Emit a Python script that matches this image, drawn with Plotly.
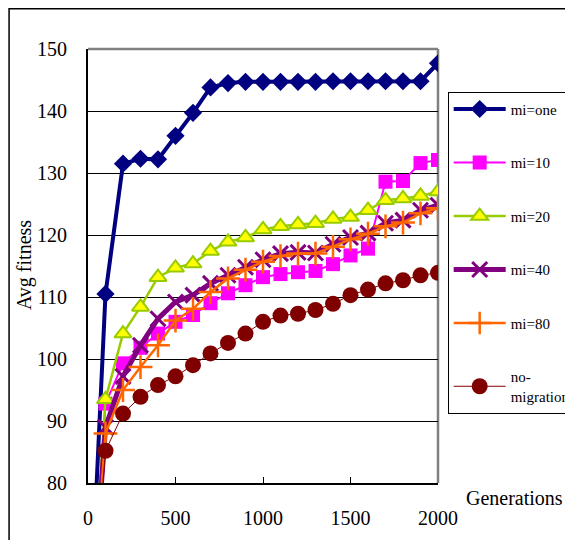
import plotly.graph_objects as go

generations = [0, 100, 200, 300, 400, 500, 600, 700, 800, 900, 1000,
               1100, 1200, 1300, 1400, 1500, 1600, 1700, 1800, 1900, 2000]

mi_one = [50, 110.5, 131.5, 132.3, 132.2, 136.0, 139.7, 143.8, 144.5, 144.7, 144.7,
          144.7, 144.7, 144.7, 144.8, 144.8, 144.8, 144.8, 144.8, 144.8, 147.7]
mi_10 = [50, 92.8, 99.3, 101.8, 104.1, 106.0, 107.1, 109.0, 110.6, 111.9, 113.2,
         113.7, 114.0, 114.2, 115.3, 116.7, 117.8, 128.6, 128.7, 131.6, 132.1]
mi_20 = [50, 93.5, 104.1, 108.4, 113.2, 114.7, 115.4, 117.4, 118.9, 119.6, 120.9,
         121.4, 121.7, 121.9, 122.6, 122.9, 124.0, 125.6, 125.9, 126.3, 127.0]
mi_40 = [50, 89.0, 97.2, 102.2, 106.5, 109.2, 110.3, 112.2, 113.5, 114.8, 116.0,
         117.0, 117.2, 117.1, 118.5, 119.6, 120.3, 121.9, 122.4, 124.0, 124.8]
mi_80 = [50, 88.0, 95.0, 98.7, 102.2, 106.2, 108.1, 110.8, 113.0, 114.4, 115.7,
         116.6, 117.0, 117.0, 118.1, 119.3, 120.2, 121.4, 122.0, 123.5, 124.3]
no_migration = [50, 85.2, 91.2, 93.9, 95.8, 97.2, 99.0, 100.9, 102.6, 104.1, 106.0,
                107.0, 107.3, 107.9, 108.9, 110.3, 111.2, 112.2, 112.7, 113.5, 113.9]

y_ticks = [80, 90, 100, 110, 120, 130, 140, 150]
x_ticks = [0, 500, 1000, 1500, 2000]

series = [
    ("mi=one", mi_one, dict(color="#000080", width=4),
     dict(symbol="diamond", size=14, color="#000080")),
    ("mi=10", mi_10, dict(color="#FF00FF", width=2),
     dict(symbol="square", size=14, color="#FF00FF")),
    ("mi=20", mi_20, dict(color="#99CC00", width=2.5),
     dict(symbol="triangle-up", size=15, color="#FFFF00",
          line=dict(color="#99CC00", width=2))),
    ("mi=40", mi_40, dict(color="#800080", width=5),
     dict(symbol="x-thin-open", size=15, color="#800080",
          line=dict(color="#800080", width=3))),
    ("mi=80", mi_80, dict(color="#FF6600", width=2.5),
     dict(symbol="cross-thin-open", size=17, color="#FF6600",
          line=dict(color="#FF6600", width=2.5))),
    ("no-<br>migration", no_migration, dict(color="#800000", width=1),
     dict(symbol="circle", size=16, color="#800000")),
]

fig = go.Figure()
for i, (name, vals, ln, mk) in enumerate(series):
    fig.add_trace(go.Scatter(x=generations, y=vals, name=name, mode="lines+markers",
                             line=ln, marker=mk, legendgroup=f"g{i}"))

serif = "Liberation Serif"
OFF = 8  # page body margin
W, H = 573 - OFF, 540 - OFF
# plot area in page pixels
PL, PR, PT, PB = 88, 438.3, 49.3, 482.6
L, T = PL - OFF, PT - OFF
R, B = W - (PR - OFF), H - (PB - OFF)
pw, ph = PR - PL, PB - PT

def px(X):
    return (X - PL) / pw

def py(Y):
    return (PB - Y) / ph

fig.update_layout(
    template="none",
    width=W, height=H,
    margin=dict(l=L, r=R, t=T, b=B, autoexpand=False),
    paper_bgcolor="white", plot_bgcolor="white",
    font=dict(family=serif, color="black", size=15),
    showlegend=True,
    legend=dict(x=px(448), y=py(92), xanchor="left", yanchor="top",
                bordercolor="black", borderwidth=1, bgcolor="white",
                font=dict(family=serif, size=15, color="black", weight="normal"),
                tracegroupgap=31, itemwidth=52),
    xaxis=dict(range=[0, 2000], tickvals=x_ticks, ticks="inside", ticklen=6,
               tickcolor="black", showgrid=False, zeroline=False, automargin=False,
               showline=True, linecolor="black", linewidth=2,
               tickfont=dict(family=serif, size=20), ticklabelstandoff=16),
    yaxis=dict(range=[80, 150], tickvals=y_ticks, ticks="", showgrid=True,
               gridcolor="black", gridwidth=1, zeroline=False, automargin=False,
               showline=True, linecolor="black", linewidth=2,
               tickfont=dict(family=serif, size=20), ticklabelstandoff=15),
    shapes=[
        dict(type="line", xref="paper", yref="paper", x0=0, x1=1, y0=1, y1=1,
             line=dict(color="#808080", width=2.5), layer="above"),
        dict(type="line", xref="paper", yref="paper", x0=1, x1=1, y0=0, y1=1,
             line=dict(color="#808080", width=2.5), layer="below"),
        dict(type="rect", xref="paper", yref="paper", x0=px(9), x1=px(600),
             y0=py(600), y1=py(9), line=dict(color="black", width=1.5),
             layer="below"),
    ],
    annotations=[
        dict(text="Generations", xref="paper", yref="paper", x=px(515), y=py(498),
             xanchor="center", yanchor="middle", showarrow=False,
             font=dict(family=serif, size=20)),
        dict(text="Avg fitness", xref="paper", yref="paper", x=px(24), y=py(265),
             xanchor="center", yanchor="middle", showarrow=False, textangle=-90,
             font=dict(family=serif, size=20)),
    ],
)

fig.write_html("out.html")
